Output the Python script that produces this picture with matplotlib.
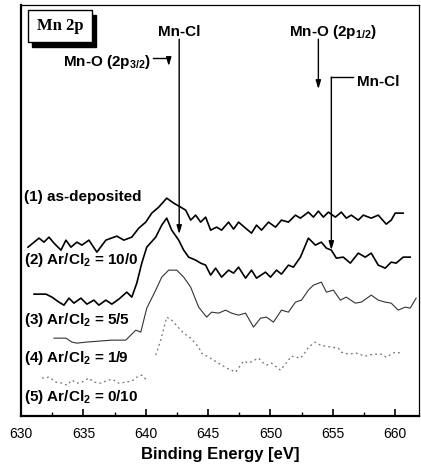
import matplotlib
matplotlib.use("Agg")
import matplotlib.pyplot as plt
from matplotlib.patches import Rectangle
from matplotlib.ticker import MultipleLocator

plt.rcParams["font.family"] = ["Liberation Sans", "DejaVu Sans"]
plt.rcParams["mathtext.fontset"] = "custom"
plt.rcParams["mathtext.bf"] = "Liberation Sans:bold"
plt.rcParams["mathtext.rm"] = "Liberation Sans:bold"
plt.rcParams["mathtext.default"] = "bf"

# Mn 2p XPS spectra (binding energy in eV, intensity in arbitrary offset units)
e1 = [630.56, 631.44, 631.84, 632.24, 632.64, 633.2, 633.6, 634.0, 634.48, 634.88,
      635.44, 636.08, 636.8, 637.68, 638.24, 638.88, 639.44, 640.0, 640.48, 641.04,
      641.68, 642.24, 642.8, 643.2, 643.6, 644.0, 644.4, 644.8, 645.2, 645.68,
      646.08, 646.64, 647.04, 647.44, 648.0, 648.48, 648.88, 649.28, 649.84, 650.4,
      650.88, 651.44, 652.0, 652.4, 653.04, 653.44, 653.84, 654.24, 654.64, 655.2,
      655.68, 656.08, 656.48, 657.04, 657.44, 658.08, 658.64, 659.28, 659.68, 660.0,
      660.64]
i1 = [169, 178, 174, 179, 173, 166, 176, 169, 174, 171,
      176, 164, 176, 180, 176, 179, 188, 194, 203, 209,
      218, 213, 209, 206, 196, 201, 194, 199, 186, 189,
      186, 194, 187, 194, 188, 183, 191, 186, 194, 189,
      196, 194, 201, 198, 204, 199, 205, 199, 204, 199,
      204, 198, 201, 196, 201, 198, 201, 192, 196, 203,
      203]

e2 = [631.04, 632.0, 632.48, 633.04, 633.44, 633.84, 634.24, 634.8, 635.28, 635.84,
      636.24, 636.8, 637.28, 637.84, 638.48, 638.88, 639.28, 639.68, 640.08, 640.8,
      641.28, 641.68, 642.08, 642.64, 643.04, 643.44, 644.0, 644.4, 644.8, 645.2,
      645.6, 646.08, 646.64, 647.04, 647.44, 648.0, 648.48, 648.88, 649.6, 650.0,
      650.48, 650.88, 651.44, 651.84, 652.4, 653.04, 653.6, 654.08, 654.48, 654.88,
      655.28, 655.84, 656.4, 657.04, 657.6, 658.08, 658.64, 659.2, 659.68, 660.08,
      660.64, 661.2]
i2 = [122, 122, 119, 114, 111, 118, 113, 118, 112, 116,
      111, 116, 112, 117, 124, 119, 133, 153, 169, 179,
      191, 198, 186, 176, 166, 159, 156, 153, 151, 141,
      148, 139, 146, 143, 149, 138, 146, 138, 144, 139,
      146, 142, 151, 149, 159, 178, 171, 174, 168, 166,
      158, 159, 153, 163, 159, 163, 151, 148, 154, 153,
      159, 159]

e3 = [632.64, 633.6, 634.08, 634.48, 635.2, 636.24, 637.28, 638.4, 638.8, 639.2,
      639.6, 639.84, 640.08, 640.8, 641.28, 641.84, 642.48, 643.04, 643.6, 644.24,
      644.88, 645.28, 645.84, 646.4, 646.88, 647.44, 648.0, 648.64, 649.2, 649.68,
      650.24, 650.88, 651.44, 652.0, 652.48, 653.04, 653.44, 654.08, 654.48, 655.04,
      655.6, 656.08, 656.8, 657.28, 658.08, 658.64, 659.2, 659.68, 660.24, 660.8,
      661.2, 661.68]
i3 = [78, 78, 74, 73, 74, 75, 76, 76, 81, 86,
      84, 96, 108, 126, 139, 146, 146, 139, 129, 109,
      99, 104, 103, 106, 103, 101, 103, 89, 98, 99,
      94, 106, 104, 114, 116, 126, 131, 134, 124, 126,
      116, 119, 113, 114, 121, 116, 114, 113, 106, 109,
      108, 118]

e4 = [640.8, 641.2, 641.68, 642.08, 642.8, 643.04, 643.6, 644.24, 644.48, 645.04,
      646.48, 646.88, 647.2, 647.6, 647.84, 648.24, 649.04, 649.44, 649.68, 650.08,
      650.8, 651.44, 651.68, 652.4, 652.8, 653.04, 653.6, 654.0, 654.88, 655.44,
      655.68, 656.24, 656.88, 657.6, 658.24, 658.88, 659.28, 660.0, 660.48]
i4 = [61, 76, 99, 96, 86, 83, 78, 69, 63, 59,
      48, 46, 44, 51, 55, 53, 58, 53, 51, 53,
      46, 56, 60, 58, 64, 69, 74, 71, 69, 68,
      64, 62, 63, 60, 62, 62, 59, 64, 63]

e5 = [631.68, 632.24, 632.8, 633.28, 633.68, 634.08, 634.48, 634.88, 635.44, 635.84,
      636.4, 636.8, 637.28, 637.84, 638.4, 638.88, 639.28, 639.68, 640.08]
i5 = [38, 39, 34, 33, 31, 36, 33, 34, 38, 34,
      33, 35, 37, 33, 34, 35, 39, 41, 36]

labels = ["(1) as-deposited", "(2) Ar/Cl$_2$ = 10/0", "(3) Ar/Cl$_2$ = 5/5",
          "(4) Ar/Cl$_2$ = 1/9", "(5) Ar/Cl$_2$ = 0/10"]
label_y = [219, 156, 96, 58, 19]

fig = plt.figure(figsize=(4.21, 4.66), dpi=100)
ax = fig.add_axes([0.05, 0.107, 0.945, 0.882])

ax.plot(e1, i1, color="black", lw=1.2, solid_joinstyle="round")
ax.plot(e2, i2, color="black", lw=1.2, solid_joinstyle="round")
ax.plot(e3, i3, color="0.2", lw=0.8, solid_joinstyle="round")
ax.plot(e4, i4, color="0.45", lw=0.9, linestyle=(0, (1.5, 2.5)))
ax.plot(e5, i5, color="0.45", lw=0.9, linestyle=(0, (1.5, 2.5)))

for txt, y in zip(labels, label_y):
    ax.text(630.25, y, txt, fontsize=11, fontweight="bold", va="center", ha="left")

arrow = dict(arrowstyle="-|>,head_width=0.15,head_length=0.5", color="black",
             lw=1.0, shrinkA=0, shrinkB=0)

# Mn-Cl (2p3/2)
ax.text(642.72, 384, "Mn-Cl", fontsize=11, fontweight="bold", ha="center", va="center")
ax.annotate("", xy=(642.68, 182), xytext=(642.68, 377), arrowprops=arrow)

# Mn-O (2p3/2)
ax.text(640.4, 354, "Mn-O (2p$_{3/2}$)", fontsize=11, fontweight="bold",
        ha="right", va="center")
ax.plot([640.6, 641.84], [358, 358], color="black", lw=1.0)
ax.annotate("", xy=(641.84, 350), xytext=(641.84, 358), arrowprops=arrow)

# Mn-O (2p1/2)
ax.text(655.0, 384, "Mn-O (2p$_{1/2}$)", fontsize=11, fontweight="bold",
        ha="center", va="center")
ax.annotate("", xy=(653.84, 327), xytext=(653.84, 377), arrowprops=arrow)

# Mn-Cl (2p1/2)
ax.text(656.9, 334, "Mn-Cl", fontsize=11, fontweight="bold", ha="left", va="center")
ax.plot([654.88, 656.64], [339, 339], color="black", lw=1.0)
ax.annotate("", xy=(654.88, 166), xytext=(654.88, 339), arrowprops=arrow)

# "Mn 2p" box with drop shadow
ax.add_patch(Rectangle((0.028, 0.898), 0.16, 0.078, transform=ax.transAxes,
                       facecolor="black", edgecolor="black", zorder=4))
ax.add_patch(Rectangle((0.0176, 0.910), 0.16, 0.078, transform=ax.transAxes,
                       facecolor="white", edgecolor="black", lw=1.0, zorder=5))
ax.text(0.0976, 0.949, "Mn 2p", transform=ax.transAxes, fontsize=12,
        fontweight="bold", family=["Liberation Serif", "DejaVu Serif"],
        ha="center", va="center", zorder=6)

ax.set_xlim(630, 661.9)
ax.set_ylim(0, 411)
ax.xaxis.set_major_locator(MultipleLocator(5))
ax.xaxis.set_minor_locator(MultipleLocator(2.5))
ax.tick_params(axis="x", which="major", direction="in", length=5, width=1.2,
               labelsize=10, pad=8)
ax.tick_params(axis="x", which="minor", direction="in", length=3, width=1.0)
ax.set_yticks([])
for side in ("left", "bottom"):
    ax.spines[side].set_linewidth(1.6)
for side in ("top", "right"):
    ax.spines[side].set_linewidth(0.9)
ax.set_xlabel("Binding Energy [eV]", fontsize=12, fontweight="bold", labelpad=4)

fig.savefig("out.png", dpi=100)
